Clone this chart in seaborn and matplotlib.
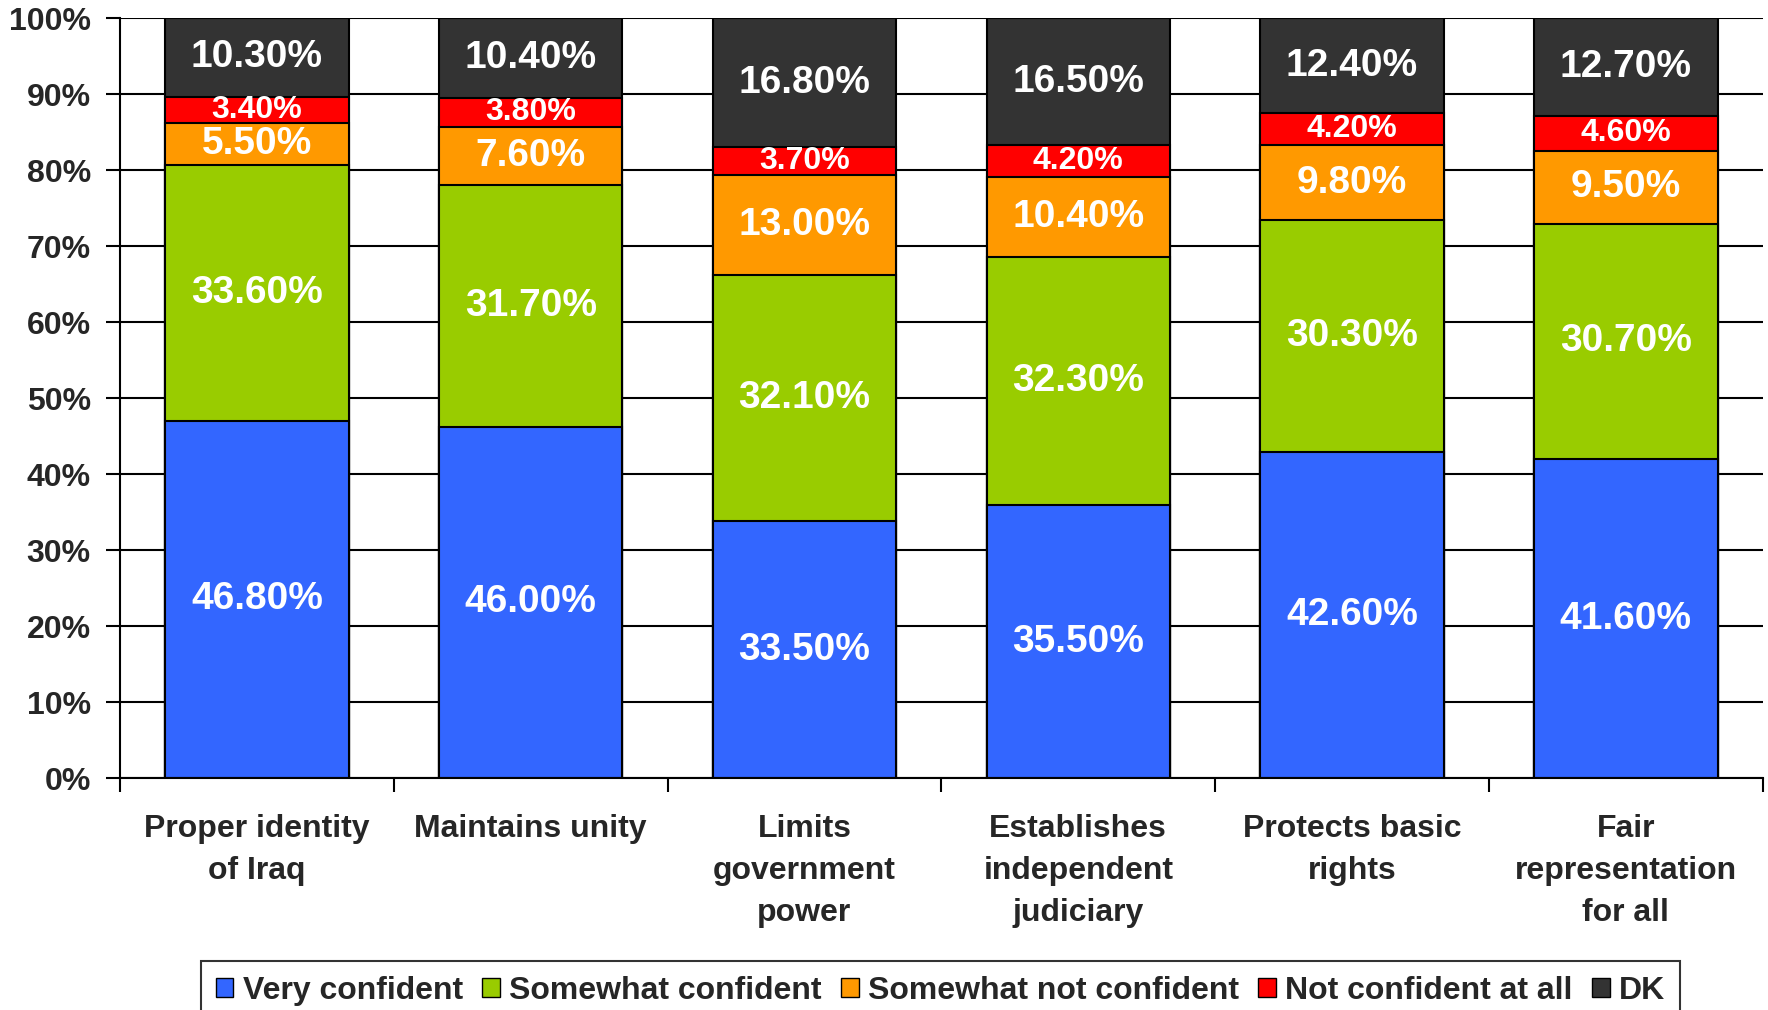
import numpy as np
import pandas as pd
import seaborn as sns
import matplotlib.pyplot as plt
from matplotlib.patches import Patch
from matplotlib.ticker import PercentFormatter

categories = ['Proper identity\nof Iraq', 'Maintains unity', 'Limits\ngovernment\npower',
              'Establishes\nindependent\njudiciary', 'Protects basic\nrights', 'Fair\nrepresentation\nfor all']
series_names = ['Very confident', 'Somewhat confident', 'Somewhat not confident', 'Not confident at all', 'DK']
very_confident = [46.8, 46.0, 33.5, 35.5, 42.6, 41.6]
somewhat_confident = [33.6, 31.7, 32.1, 32.3, 30.3, 30.7]
somewhat_not_confident = [5.5, 7.6, 13.0, 10.4, 9.8, 9.5]
not_confident_at_all = [3.4, 3.8, 3.7, 4.2, 4.2, 4.6]
dk = [10.3, 10.4, 16.8, 16.5, 12.4, 12.7]

COLORS = ['#3366FF', '#99CC00', '#FF9900', '#FF0000', '#333333']

df = pd.DataFrame({
    'Very confident': very_confident,
    'Somewhat confident': somewhat_confident,
    'Somewhat not confident': somewhat_not_confident,
    'Not confident at all': not_confident_at_all,
    'DK': dk,
}, index=categories)
# 100% stacked: each bar scaled to its own total
share = df.div(df.sum(axis=1), axis=0) * 100
cum = share.cumsum(axis=1)

sns.set_style('white')
plt.rcParams['font.family'] = ['Liberation Sans', 'DejaVu Sans']
plt.rcParams['font.weight'] = 'bold'

fig = plt.figure(figsize=(17.68, 10.10), dpi=100)
ax = fig.add_axes([0.0679, 0.2297, 0.997 - 0.0679, 0.982 - 0.2297])

# draw tallest cumulative first, shorter ones on top
for name, color in reversed(list(zip(series_names, COLORS))):
    sns.barplot(x=categories, y=cum[name].values, color=color, saturation=1,
                width=0.67, edgecolor='black', linewidth=1.5, ax=ax, zorder=3)

# segment labels
for i, cat in enumerate(categories):
    bottom = 0
    for name in series_names:
        h = share.loc[cat, name]
        size = 23 if name == 'Not confident at all' else 28
        ax.text(i, bottom + h / 2, f'{df.loc[cat, name]:.2f}%', ha='center', va='center',
                color='white', fontsize=size, fontweight='bold', zorder=5)
        bottom += h

ax.set_ylim(0, 100)
ax.set_xlim(-0.5, len(categories) - 0.5)
ax.set_yticks(np.arange(0, 101, 10))
ax.yaxis.set_major_formatter(PercentFormatter(decimals=0))
ax.yaxis.grid(True, color='black', linewidth=1.5)
ax.set_axisbelow(True)

ax.set_xticks(np.arange(-0.5, len(categories), 1))
ax.set_xticklabels([])
ax.set_xticks(np.arange(len(categories)), minor=True)
ax.set_xticklabels(categories, minor=True, fontsize=23, fontweight='bold', linespacing=1.52)
ax.tick_params(axis='x', which='major', length=10, width=1.5, direction='out', color='black', bottom=True)
ax.tick_params(axis='x', which='minor', length=0, pad=26)
ax.tick_params(axis='y', length=10, width=1.5, direction='out', color='black', left=True,
               labelsize=23, pad=11)
for lbl in ax.get_yticklabels():
    lbl.set_fontweight('bold')
ax.set_xlabel('')
ax.set_ylabel('')

for side in ['top', 'right']:
    ax.spines[side].set_visible(False)
for side in ['left', 'bottom']:
    ax.spines[side].set_color('black')
    ax.spines[side].set_linewidth(1.5)
    ax.spines[side].set_zorder(6)

handles = [Patch(facecolor=c, edgecolor='black', linewidth=1) for c in COLORS]
leg = fig.legend(handles, series_names, loc='upper center', bbox_to_anchor=(0.532, 0.064),
                 ncol=5, frameon=True, fancybox=False, edgecolor='black', handlelength=0.55,
                 handleheight=0.55, handletextpad=0.3, columnspacing=0.6, borderpad=0.45,
                 prop={'family': 'Liberation Sans', 'weight': 'bold', 'size': 23})
leg.get_frame().set_linewidth(1.5)

fig.savefig('out.png', dpi=100)
